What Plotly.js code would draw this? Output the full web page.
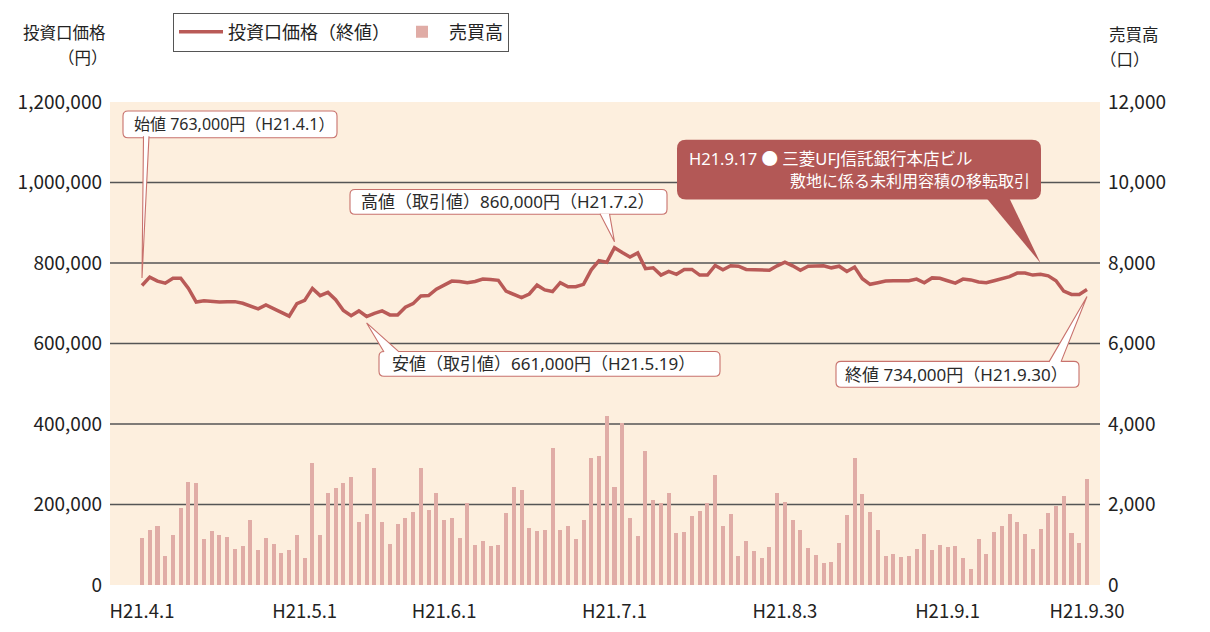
<!DOCTYPE html>
<html>
<head>
<meta charset="utf-8">
<script src="https://cdn.plot.ly/plotly-3.0.1.min.js"></script>
<style>html,body{margin:0;padding:0;background:#fff;}#chart{width:1210px;height:632px;}</style>
</head>
<body>
<div id="chart"></div>
<script>
// ---- data ----
const startDate = '2009-04-01';
const endDate = '2009-09-30';
const holidays = ['2009-04-29','2009-05-04','2009-05-05','2009-05-06','2009-07-20','2009-09-21','2009-09-22','2009-09-23'];

const price = [
 744000,765000,755000,750000,762000,762000,737000,703000,706000,704000,
 703000,704000,704000,700000,694000,686000,696000,686000,677000,668000,
 699000,707000,737000,719000,727000,709000,682000,669000,681000,667000,
 675000,681000,671000,671000,690000,699000,718000,719000,735000,746000,
 755000,754000,751000,754000,760000,759000,757000,730000,723000,714000,
 723000,745000,733000,729000,751000,741000,741000,747000,783000,806000,
 802000,838000,826000,815000,825000,786000,788000,770000,779000,772000,
 784000,784000,770000,770000,794000,783000,793000,792000,784000,784000,
 783000,782000,793000,802000,793000,782000,792000,793000,793000,788000,
 792000,779000,790000,761000,747000,751000,755000,756000,757000,756000,
 760000,751000,763000,762000,756000,750000,760000,758000,753000,751000,
 756000,762000,766000,775000,775000,770000,772000,768000,756000,730000,
 722000,722000,734000
];

const volume = [
 1160,1358,1457,716,1235,1901,2568,2543,1136,1333,
 1235,1185,889,963,1605,864,1160,1012,790,864,
 1235,667,3037,1235,2296,2420,2543,2691,1555,1753,
 2913,1555,1012,1506,1654,1802,2913,1852,2296,1605,
 1654,1160,2025,988,1086,963,988,1778,2444,2370,
 1407,1333,1358,3407,1358,1457,1136,1605,3160,3210,
 4197,2444,4024,1654,1210,3333,2123,2049,2296,1284,
 1309,1704,1827,2025,2741,1457,1753,716,1086,839,
 667,938,2296,2074,1605,1358,914,741,543,568,
 1037,1728,3160,2271,1802,1358,716,765,691,716,
 889,1259,864,988,938,963,667,395,1136,765,
 1309,1457,1753,1555,1259,889,1383,1778,1975,2222,
 1284,1037,2642
];

const tickDates = ['2009-04-01','2009-05-01','2009-06-01','2009-07-01','2009-08-03','2009-09-01','2009-09-30'];
const tickLabels = ['H21.4.1','H21.5.1','H21.6.1','H21.7.1','H21.8.3','H21.9.1','H21.9.30'];
const priceTicks = [0,200000,400000,600000,800000,1000000,1200000];
const volumeTicks = [0,2000,4000,6000,8000,10000,12000];

const openPrice = 763000, highPrice = 860000, lowPrice = 661000, closePrice = 734000;
const eventDate = '2009-09-17';

const seriesNames = ['投資口価格（終値）','売買高'];
const labelOpen  = '始値 763,000円（H21.4.1）';
const labelHigh  = '高値（取引値）860,000円（H21.7.2）';
const labelLow   = '安値（取引値）661,000円（H21.5.19）';
const labelClose = '終値 734,000円（H21.9.30）';
const eventLine1 = 'H21.9.17 ● 三菱UFJ信託銀行本店ビル';
const eventLine2 = '敷地に係る未利用容積の移転取引';

// ---- helpers ----
function tradingDays(s, e, hol) {
  const out = [];
  let d = new Date(s + 'T00:00:00Z');
  const end = new Date(e + 'T00:00:00Z');
  while (d <= end) {
    const dow = d.getUTCDay();
    const iso = d.toISOString().slice(0, 10);
    if (dow !== 0 && dow !== 6 && hol.indexOf(iso) < 0) out.push(iso);
    d = new Date(d.getTime() + 86400000);
  }
  return out;
}
const dates = tradingDays(startDate, endDate, holidays);

// plot geometry
const W = 1210, H = 632;
const M = {l: 110, r: 110, t: 99, b: 47};
const PW = W - M.l - M.r, PH = H - M.t - M.b;
const XR = [-4.131, 123.68];
const YMAX = 1200000;
function X(i) { return M.l + (i - XR[0]) / (XR[1] - XR[0]) * PW; }
function Y(v) { return M.t + PH - v / YMAX * PH; }
function px(x) { return (x - M.l) / PW; }
function py(y) { return (M.t + PH - y) / PH; }
function P(x, y) { return px(x).toFixed(5) + ',' + py(y).toFixed(5); }

function roundRect(x0, y0, x1, y1, r) {
  return 'M' + P(x0 + r, y0) + ' L' + P(x1 - r, y0) + ' Q' + P(x1, y0) + ' ' + P(x1, y0 + r) +
    ' L' + P(x1, y1 - r) + ' Q' + P(x1, y1) + ' ' + P(x1 - r, y1) +
    ' L' + P(x0 + r, y1) + ' Q' + P(x0, y1) + ' ' + P(x0, y1 - r) +
    ' L' + P(x0, y0 + r) + ' Q' + P(x0, y0) + ' ' + P(x0 + r, y0) + ' Z';
}

const LINE_COLOR = '#b95a57';
const BAR_COLOR = '#e0aca6';
const BOX_BORDER = '#c8726d';
const DARK_BOX = '#b35856';
const FONT = '"Noto Sans CJK JP", "Noto Sans", sans-serif';
const FONT_MIX = '"Noto Sans", "Noto Sans CJK JP", sans-serif';

const shapes = [];
// gridlines
priceTicks.slice(1, -1).forEach(function (v) {
  shapes.push({type: 'line', xref: 'paper', yref: 'y', x0: 0, x1: 1, y0: v, y1: v,
    line: {color: '#555', width: 1.3}, layer: 'below'});
});

function callout(box, base1, base2, tip, r) {
  shapes.push({type: 'path', xref: 'paper', yref: 'paper', path: roundRect(box[0], box[1], box[2], box[3], r),
    fillcolor: '#ffffff', line: {color: BOX_BORDER, width: 1.1}, layer: 'above'});
  shapes.push({type: 'path', xref: 'paper', yref: 'paper',
    path: 'M' + P(base1[0], base1[1]) + ' L' + P(tip[0], tip[1]) + ' L' + P(base2[0], base2[1]) + ' Z',
    fillcolor: '#ffffff', line: {width: 0}, layer: 'above'});
  shapes.push({type: 'path', xref: 'paper', yref: 'paper',
    path: 'M' + P(base1[0], base1[1]) + ' L' + P(tip[0], tip[1]) + ' L' + P(base2[0], base2[1]),
    line: {color: BOX_BORDER, width: 1.1}, layer: 'above'});
}

const iMax = price.indexOf(Math.max.apply(null, price));
const iMin = price.indexOf(Math.min.apply(null, price));
const iLast = price.length - 1;
const iEvent = dates.indexOf(eventDate);

callout([123, 108, 337, 135], [143.5, 133.5], [149, 133.5], [X(0), Y(openPrice)], 5);
callout([350, 187, 667, 212], [600, 211.5], [609.5, 211.5], [X(iMax), Y(highPrice) + 3], 5);
callout([379, 350, 720, 375], [384, 350.5], [399, 350.5], [X(iMin), Y(lowPrice) + 4], 5);
callout([836, 360, 1079, 386], [1049, 360.5], [1061, 360.5], [X(iLast), Y(closePrice) + 7], 5);

// dark event callout
shapes.push({type: 'path', xref: 'paper', yref: 'paper', path: roundRect(677, 137, 1041, 197, 9),
  fillcolor: DARK_BOX, line: {width: 0}, layer: 'above'});
shapes.push({type: 'path', xref: 'paper', yref: 'paper',
  path: 'M' + P(986, 195) + ' L' + P(X(iEvent), Y(800000)) + ' L' + P(1009, 195) + ' Z',
  fillcolor: DARK_BOX, line: {width: 0}, layer: 'above'});

function txt(text, x, y, anchor, size, color, family) {
  return {text: text, xref: 'paper', yref: 'paper', x: px(x), y: py(y), xanchor: anchor, yanchor: 'middle',
    showarrow: false, font: {family: family || FONT, size: size, color: color || '#2a2a2a'}};
}

const annotations = [
  txt('投資口価格', 108, 29, 'right', 16.5, '#222'),
  txt('（円）', 110, 54, 'right', 16.5, '#222'),
  txt('売買高', 1161, 31, 'right', 16.5, '#222'),
  txt('（口）', 1152, 56, 'right', 16.5, '#222'),
  txt(labelOpen, 132, 121.5, 'left', 16, null, FONT_MIX),
  txt(labelHigh, 359, 199.5, 'left', 17, null, FONT_MIX),
  txt(labelLow, 390, 362.5, 'left', 17, null, FONT_MIX),
  txt(labelClose, 843, 373, 'left', 17, null, FONT_MIX),
  txt(eventLine1, 687, 156, 'left', 16.5, '#ffffff', FONT_MIX),
  txt(eventLine2, 788, 178, 'left', 16, '#ffffff', FONT_MIX)
];

const traces = [
  {x: dates, y: price, type: 'scatter', mode: 'lines', name: seriesNames[0], yaxis: 'y',
   line: {color: LINE_COLOR, width: 3.5}, hoverinfo: 'skip'},
  {x: dates, y: volume, type: 'bar', name: seriesNames[1], yaxis: 'y2',
   marker: {color: BAR_COLOR}, width: 0.52, hoverinfo: 'skip'}
];

const layout = {
  width: W, height: H,
  margin: M,
  paper_bgcolor: '#ffffff',
  plot_bgcolor: '#fdefde',
  font: {family: FONT, color: '#222'},
  showlegend: true,
  legend: {orientation: 'h', x: px(173), y: py(9), xanchor: 'left', yanchor: 'top',
    bgcolor: '#ffffff', bordercolor: '#555', borderwidth: 1, itemwidth: 44,
    font: {family: FONT, size: 18, color: '#222'}, traceorder: 'normal'},
  xaxis: {type: 'category', range: XR, tickvals: tickDates, ticktext: tickLabels,
    showgrid: false, zeroline: false, showline: false, ticks: '',
    tickfont: {family: FONT, size: 18.5, color: '#222'}, ticklabelstandoff: 13, fixedrange: true},
  yaxis: {range: [0, YMAX], tickvals: priceTicks, tickformat: ',d', showgrid: false, zeroline: false,
    ticks: '', showline: false, tickfont: {family: FONT, size: 19, color: '#222'}, ticklabelstandoff: 7, fixedrange: true},
  yaxis2: {range: [0, 12000], tickvals: volumeTicks, tickformat: ',d', overlaying: 'y', side: 'right',
    showgrid: false, zeroline: false, ticks: '', showline: false,
    tickfont: {family: FONT, size: 19, color: '#222'}, ticklabelstandoff: 7, fixedrange: true},
  bargap: 0,
  shapes: shapes,
  annotations: annotations
};

Plotly.newPlot('chart', traces, layout, {displayModeBar: false, staticPlot: true});
</script>
</body>
</html>
